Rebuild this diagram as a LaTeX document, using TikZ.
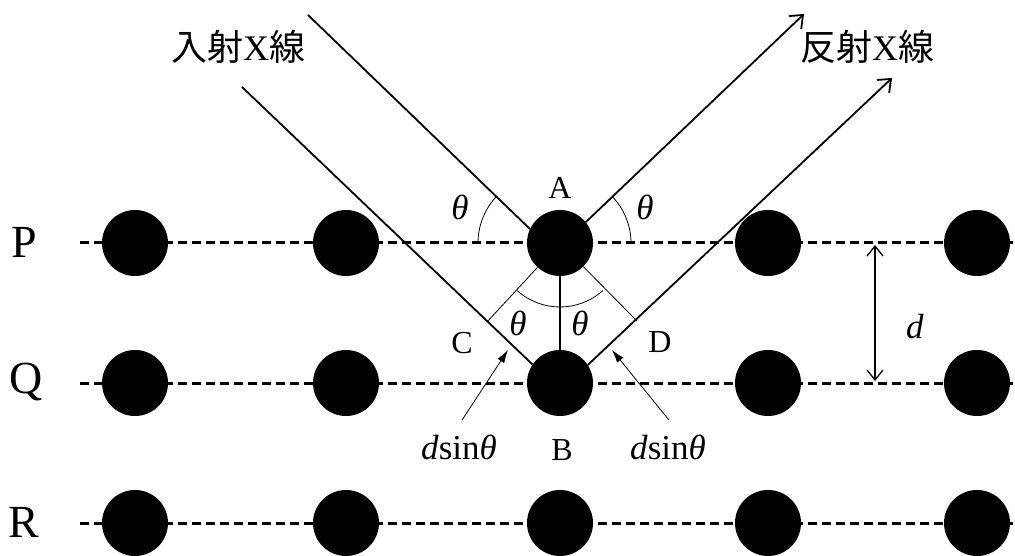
\documentclass[tikz,border=0pt]{standalone}
\usepackage{fontspec}
\setmainfont{Liberation Serif}
\newfontfamily\cjk{Noto Sans CJK JP}
\usetikzlibrary{arrows.meta, positioning, calc}

\begin{document}
\begin{tikzpicture}[x=1pt,y=1pt,
    atom/.style={circle,fill=black,inner sep=0pt,minimum size=66pt},
    plane/.style={dash pattern=on 9pt off 5pt,line width=3pt},
    xray/.style={line width=1.8pt},
    guide/.style={line width=0.8pt},
    pointer/.style={line width=0.8pt,-{Latex[length=13pt,width=8pt]}},
    gap/.style={line width=1.3pt,{Straight Barb[length=10pt,width=16pt]}-{Straight Barb[length=10pt,width=16pt]}},
    lbl/.style={font=\fontsize{32}{32}\selectfont},
    sym/.style={font=\fontsize{35}{35}\selectfont},
    big/.style={font=\fontsize{46}{46}\selectfont},
    jp/.style={font=\fontsize{36}{36}\selectfont}]
    \useasboundingbox (0,0) rectangle (1015,555);

    \coordinate (pL) at (80,312);
    \coordinate (pR) at (1015,312);
    \coordinate (qL) at (80,172);
    \coordinate (qR) at (1015,172);
    \coordinate (rL) at (80,32);
    \coordinate (rR) at (1015,32);
    \draw[plane] (pL) -- (pR);
    \draw[plane] (qL) -- (qR);
    \draw[plane] (rL) -- (rR);

    \node[big] (P) at (24,313) {P};
    \node[big] (Q) at (26,173) {Q};
    \node[big] (R) at (24,33) {R};

    \node[atom] (p1) at (135,312) {};
    \node[atom] (p2) at (346,312) {};
    \node[atom] (A) at (560,312) {};
    \node[atom] (p4) at (768,312) {};
    \node[atom] (p5) at (977,312) {};
    \node[atom] (q1) at (135,172) {};
    \node[atom] (q2) at (346,172) {};
    \node[atom] (B) at (560,172) {};
    \node[atom] (q4) at (768,172) {};
    \node[atom] (q5) at (977,172) {};
    \node[atom] (r1) at (135,32) {};
    \node[atom] (r2) at (346,32) {};
    \node[atom] (r3) at (560,32) {};
    \node[atom] (r4) at (768,32) {};
    \node[atom] (r5) at (977,32) {};

    \coordinate (inA) at (308,540);
    \coordinate (inB) at (242,468);
    \coordinate (outA) at (804,541);
    \coordinate (outB) at (892,477);
    \draw[xray] (inA) -- (A.155);
    \draw[xray] (inB) -- (B.146);
    \draw[xray,-{Straight Barb[length=11pt,width=18pt]}] (A.39) -- (outA);
    \draw[xray,-{Straight Barb[length=11pt,width=18pt]}] (B.33) -- (outB);

    \coordinate (C) at (487,233);
    \coordinate (D) at (637,234);
    \draw[guide] (A) -- (C);
    \draw[guide] (A) -- (D);
    \draw[line width=1.2pt] (A) -- (B);
    \draw[guide] ($(A)+(228:64)$) arc[start angle=228, end angle=312, radius=64];
    \draw[guide] (478,312) arc[start angle=180, end angle=136.2, radius=68];
    \draw[guide] (631,312) arc[start angle=0, end angle=43.7, radius=67];

    \node[jp] (inlbl) at (238,508) {{\cjk 入射}X{\cjk 線}};
    \node[jp] (outlbl) at (867,508) {{\cjk 反射}X{\cjk 線}};

    \node[lbl] (labA) at (560,367) {A};
    \node[lbl] (labB) at (562,105) {B};
    \node[lbl] (labC) at (462,212) {C};
    \node[lbl] (labD) at (660,213) {D};
    \node[sym] (th1) at (460,348) {\itshape θ};
    \node[sym] (th2) at (645,348) {\itshape θ};
    \node[sym] (th3) at (518,232) {\itshape θ};
    \node[sym] (th4) at (580,232) {\itshape θ};
    \node[sym] (ds1) at (459,108) {\textit{d}sin\textit{θ}};
    \node[sym] (ds2) at (668,108) {\textit{d}sin\textit{θ}};

    \coordinate (tC) at (508,205);
    \coordinate (tD) at (612,205);
    \draw[pointer] ([xshift=3pt,yshift=11pt]ds1.north) -- (tC);
    \draw[pointer] ([xshift=1pt,yshift=11pt]ds2.north) -- (tD);

    \coordinate (dP) at (875,310);
    \coordinate (dQ) at (875,174);
    \draw[gap] (dP) -- (dQ);
    \node[sym] (d) at (915,228) {\textit{d}};
\end{tikzpicture}
\end{document}
